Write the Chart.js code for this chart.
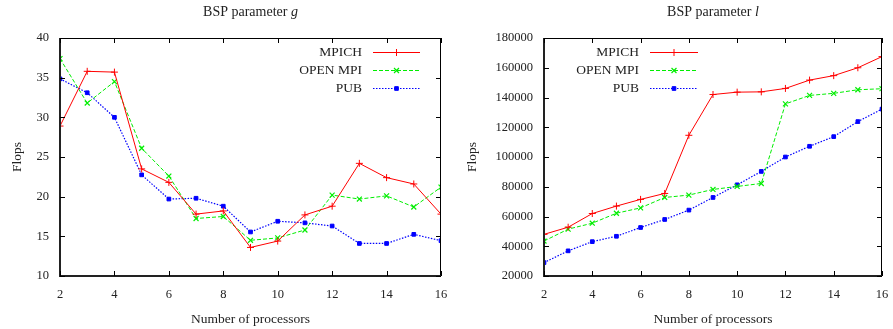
<!DOCTYPE html>
<html>
<head>
<meta charset="utf-8">
<script src="https://cdn.jsdelivr.net/npm/chart.js@4.4.1/dist/chart.umd.min.js"></script>
<style>
  html, body { margin: 0; padding: 0; background: #fff; }
  #wrap { position: relative; width: 893px; height: 329px; overflow: hidden; }
  canvas { position: absolute; top: 0; }
</style>
</head>
<body>
<div id="wrap">
  <canvas id="cg" width="460" height="329" style="left:0;width:460px;height:329px"></canvas>
  <canvas id="cl" width="448" height="329" style="left:445px;width:448px;height:329px"></canvas>
</div>
<script>
// ---- data ----
const processors = [2, 3, 4, 5, 6, 7, 8, 9, 10, 11, 12, 13, 14, 15, 16];
const seriesNames = ['MPICH', 'OPEN MPI', 'PUB'];

const gMpich   = [28.9, 35.8, 35.7, 23.5, 21.8, 17.8, 18.2, 13.6, 14.4, 17.7, 18.8, 24.2, 22.4, 21.6, 17.8];
const gOpenMpi = [37.4, 31.8, 34.5, 26.1, 22.6, 17.25, 17.5, 14.5, 14.8, 15.8, 20.2, 19.7, 20.1, 18.7, 21.2];
const gPub     = [34.85, 33.1, 30.0, 22.75, 19.7, 19.8, 18.8, 15.55, 16.9, 16.7, 16.3, 14.1, 14.1, 15.25, 14.45];

const lMpich   = [48000, 52800, 62000, 67000, 71500, 75500, 114600, 142000, 143600, 143800, 146100, 151700, 154700, 160000, 167500];
const lOpenMpi = [43500, 51500, 55500, 62200, 65800, 72800, 74400, 78200, 80200, 82200, 135700, 141400, 142800, 145200, 145900];
const lPub     = [29000, 36900, 43100, 46700, 52600, 58000, 64300, 72800, 81300, 90300, 100000, 107200, 113700, 123800, 132200];

const gTicks = [10, 15, 20, 25, 30, 35, 40];
const lTicks = [20000, 40000, 60000, 80000, 100000, 120000, 140000, 160000, 180000];
const xTicks = [2, 4, 6, 8, 10, 12, 14, 16];

const FONT = '"Liberation Serif", "Times New Roman", serif';

function mkDatasets(a, b, c) {
  const pts = arr => processors.map((x, i) => ({ x: x, y: arr[i] }));
  return [
    { label: seriesNames[0], data: pts(a), borderColor: '#ff0000', backgroundColor: '#ff0000',
      borderWidth: 1, pointStyle: 'cross', pointRadius: 3.5, pointBorderWidth: 1, borderDash: [] },
    { label: seriesNames[1], data: pts(b), borderColor: '#00ee00', backgroundColor: '#00ee00',
      borderWidth: 1, pointStyle: 'crossRot', pointRadius: 3.5, pointBorderWidth: 1.2, borderDash: [4, 2] },
    { label: seriesNames[2], data: pts(c), borderColor: '#0000ff', backgroundColor: '#0000ff',
      borderWidth: 1.2, pointStyle: 'rect', pointRadius: 2.6, pointBorderWidth: 1, borderDash: [1.5, 1.5] }
  ];
}

function decorPlugin(cfg) {
  return {
    id: 'decor',
    afterDatasetsDraw(chart) {
      const ctx = chart.ctx;
      const a = chart.chartArea;
      const xs = chart.scales.x, ys = chart.scales.y;
      ctx.save();
      // border
      ctx.strokeStyle = '#000';
      ctx.lineWidth = 1;
      ctx.beginPath();
      ctx.moveTo(a.left, a.top + 0.5); ctx.lineTo(a.right, a.top + 0.5);
      ctx.moveTo(a.right - 0.5, a.top); ctx.lineTo(a.right - 0.5, a.bottom);
      ctx.stroke();
      ctx.strokeStyle = '#222';
      ctx.lineWidth = 2;
      ctx.beginPath();
      ctx.moveTo(a.left, a.top); ctx.lineTo(a.left, a.bottom); ctx.lineTo(a.right, a.bottom);
      ctx.stroke();
      // inward ticks (mirrored)
      ctx.lineWidth = 1;
      ctx.strokeStyle = '#000';
      ctx.beginPath();
      xs.ticks.forEach(t => {
        const px = Math.round(xs.getPixelForValue(t.value)) + 0.5;
        ctx.moveTo(px, a.bottom); ctx.lineTo(px, a.bottom - 5);
        ctx.moveTo(px, a.top); ctx.lineTo(px, a.top + 5);
      });
      ys.ticks.forEach(t => {
        const py = Math.round(ys.getPixelForValue(t.value)) + 0.5;
        ctx.moveTo(a.left, py); ctx.lineTo(a.left + 5, py);
        ctx.moveTo(a.right, py); ctx.lineTo(a.right - 5, py);
      });
      ctx.stroke();

      // titles
      ctx.fillStyle = '#222';
      ctx.textBaseline = 'middle';
      const cx = (a.left + a.right) / 2;
      const t1 = 'BSP parameter ';
      ctx.font = '14px ' + FONT;
      const w1 = ctx.measureText(t1).width;
      ctx.font = 'italic 14px ' + FONT;
      const w2 = ctx.measureText(cfg.sym).width;
      let sx = cx - (w1 + w2) / 2;
      ctx.textAlign = 'left';
      ctx.font = '14px ' + FONT;
      ctx.fillText(t1, sx, 12);
      ctx.font = 'italic 14px ' + FONT;
      ctx.fillText(cfg.sym, sx + w1, 12);
      // x title
      ctx.font = '13.5px ' + FONT;
      ctx.textAlign = 'center';
      ctx.fillText('Number of processors', cx, 319);
      // y title
      ctx.save();
      ctx.translate(cfg.yTitleX, (a.top + a.bottom) / 2);
      ctx.rotate(-Math.PI / 2);
      ctx.fillText('Flops', 0, 0);
      ctx.restore();

      // legend
      ctx.font = '13.5px ' + FONT;
      chart.data.datasets.forEach((ds, i) => {
        const y = cfg.legY[i];
        ctx.fillStyle = '#222';
        ctx.textAlign = 'right';
        ctx.fillText(ds.label, cfg.legTextRight, y);
        ctx.strokeStyle = ds.borderColor;
        ctx.lineWidth = ds.borderWidth;
        ctx.setLineDash(ds.borderDash);
        ctx.beginPath();
        ctx.moveTo(cfg.legLine[0], y + 0.5);
        ctx.lineTo(cfg.legLine[1], y + 0.5);
        ctx.stroke();
        ctx.setLineDash([]);
        ctx.fillStyle = ds.backgroundColor;
        ctx.lineWidth = ds.pointBorderWidth;
        ctx.strokeStyle = ds.borderColor;
        Chart.helpers.drawPoint(ctx, {
          pointStyle: ds.pointStyle, radius: ds.pointRadius, borderWidth: ds.pointBorderWidth
        }, (cfg.legLine[0] + cfg.legLine[1]) / 2, y + 0.5);
      });
      ctx.restore();
    }
  };
}

function makeChart(id, datasets, yMin, yMax, yTicks, yWidth, padRight, cfg) {
  return new Chart(document.getElementById(id), {
    type: 'line',
    data: { datasets: datasets },
    options: {
      responsive: false,
      animation: false,
      devicePixelRatio: 1,
      layout: { padding: { left: 0, right: padRight, top: 38, bottom: 0 } },
      plugins: { legend: { display: false }, title: { display: false }, tooltip: { enabled: false } },
      elements: { line: { tension: 0 } },
      scales: {
        x: {
          type: 'linear', min: 2, max: 16,
          grid: { display: false, drawTicks: false },
          border: { display: false },
          afterBuildTicks: s => { s.ticks = xTicks.map(v => ({ value: v })); },
          afterFit: s => { s.height = 53; s.paddingLeft = 0; s.paddingRight = 0; },
          ticks: { padding: 11, color: '#222', font: { family: FONT, size: 12.5 }, maxRotation: 0,
                   callback: v => String(v) }
        },
        y: {
          type: 'linear', min: yMin, max: yMax,
          grid: { display: false, drawTicks: false },
          border: { display: false },
          afterBuildTicks: s => { s.ticks = yTicks.map(v => ({ value: v })); },
          afterFit: s => { s.width = yWidth; s.paddingTop = 0; s.paddingBottom = 0; },
          ticks: { padding: 11, color: '#222', font: { family: FONT, size: 12.5 },
                   callback: v => String(v) }
        }
      }
    },
    plugins: [decorPlugin(cfg)]
  });
}

makeChart('cg', mkDatasets(gMpich, gOpenMpi, gPub), 10, 40, gTicks, 60, 19,
  { sym: 'g', yTitleX: 17, legY: [52, 70, 88], legTextRight: 362, legLine: [373, 420] });
makeChart('cl', mkDatasets(lMpich, lOpenMpi, lPub), 20000, 180000, lTicks, 99, 11,
  { sym: 'l', yTitleX: 27, legY: [52, 70, 88], legTextRight: 194, legLine: [205, 253] });
</script>
</body>
</html>
